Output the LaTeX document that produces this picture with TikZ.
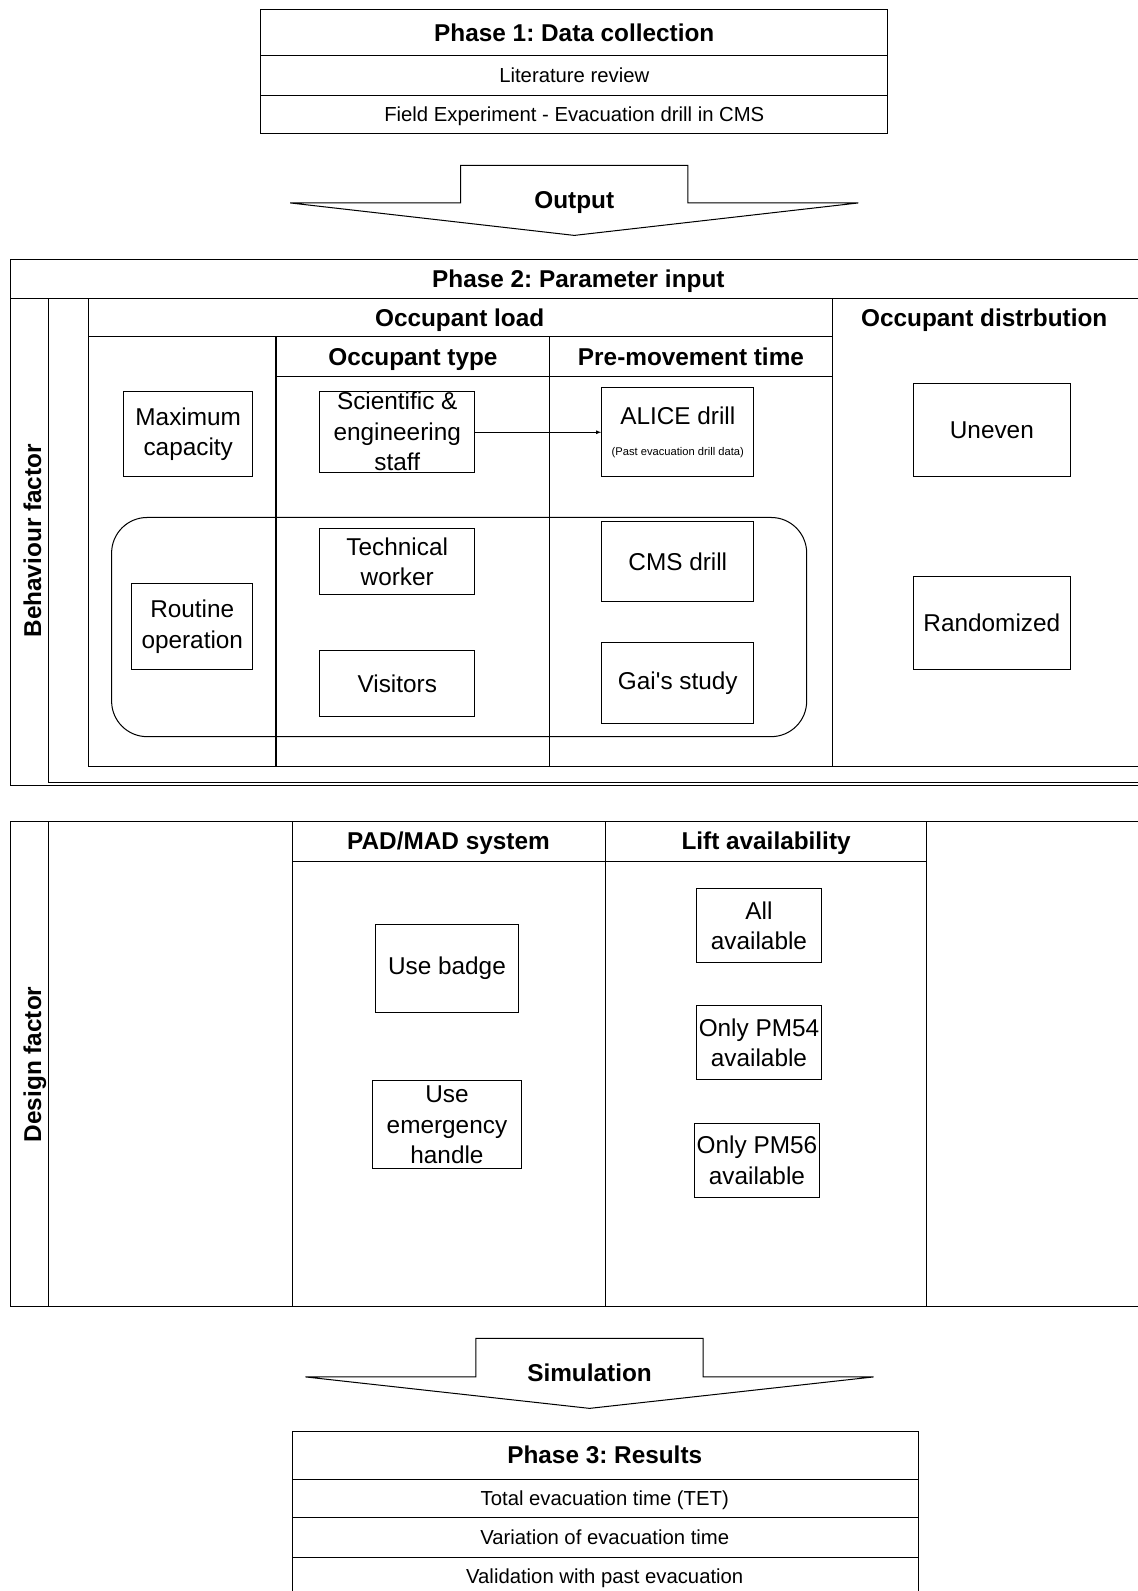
\documentclass[tikz,border=0pt]{standalone}
\usepackage{fontspec}
\setmainfont{Liberation Sans}
\frenchspacing

\tikzset{
  box/.style={draw, align=center, inner sep=0pt, font=\fontsize{24}{30}\selectfont},
  head/.style={font=\bfseries\fontsize{24}{30}\selectfont, text height=17.3pt, text depth=0pt},
  row/.style={font=\fontsize{20}{24}\selectfont, text height=14.4pt, text depth=0pt},
  bigarrow/.style={draw, fill=white}
}

\begin{document}
\begin{tikzpicture}[x=1pt,y=-1pt,line width=1pt]
	\useasboundingbox (0,0) rectangle (1121,1568);
	% Phase 1 table
	\draw (257,9) rectangle (875,132);
	\draw (257,55) -- (875,55);
	\draw (257,94) -- (875,94);
	\node[head] (phaseone) at (566,32) {Phase 1: Data collection};
	\node[row] (litrev) at (566,74) {Literature review};
	\node[row] (field) at (566,113) {Field Experiment - Evacuation drill in CMS};
	% Output arrow
	\draw[bigarrow] (454,163) -- (678,163) -- (678,200) -- (846,200) -- (566,232) -- (286,200) -- (454,200) -- cycle;
	\node[head] (output) at (566,197) {Output};

	% Phase 2 frame
	\draw (1122,256) -- (10,256) -- (10,774) -- (48,774);
	\draw (10,294) -- (1122,294);
	\draw (48,294) -- (48,771) -- (1122,771);
	\draw (48,774) -- (1122,774);
	\node[head] (phasetwo) at (570,275) {Phase 2: Parameter input};
	\node[head, rotate=90] (behaviour) at (32,533) {Behaviour factor};
	% inner table
	\draw (87,294) -- (87,755) -- (1122,755);
	\draw (87,332) -- (820,332);
	\draw (820,294) -- (820,755);
	\draw (272,332) -- (272,755);
	\draw (542,332) -- (542,755);
	\draw (272,371) -- (820,371);
	\node[head] (load) at (453,313) {Occupant load};
	\node[head] (distr) at (970,313) {Occupant distrbution};
	\node[head] (octype) at (407,352) {Occupant type};
	\node[head] (premove) at (681,352) {Pre-movement time};
	% routine group
	\draw[rounded corners=35pt] (110,510) rectangle (795,726);
	% boxes
	\node[box, minimum width=127pt, minimum height=84pt] (maxcap) at (185.5,428) {Maximum\\capacity};
	\node[box, minimum width=153pt, minimum height=80pt] (sci) at (391.5,426)
	  {\raisebox{-16pt}{\smash{\begin{tabular}{@{}c@{}}Scientific \&\\engineering\\staff\end{tabular}}}};
	\node[box, minimum width=150pt, minimum height=88pt] (alice) at (668,426)
	  {ALICE drill\\{\fontsize{11}{13}\selectfont(Past evacuation drill data)}};
	\node[box, minimum width=155pt, minimum height=92pt] (uneven) at (977.5,424) {Uneven};
	\node[box, minimum width=119pt, minimum height=85pt] (routine) at (189.5,617.5) {Routine\\operation};
	\node[box, minimum width=153pt, minimum height=65pt] (tech) at (391.5,553.5) {Technical\\worker};
	\node[box, minimum width=153pt, minimum height=65pt] (visitors) at (391.5,673.5) {Visitors};
	\node[box, minimum width=150pt, minimum height=79pt] (cms) at (668,553.5) {CMS drill};
	\node[box, minimum width=150pt, minimum height=80pt] (gai) at (668,673) {Gai\textquotesingle s study};
	\node[box, minimum width=155pt, minimum height=92pt] (random) at (977.5,614) {Randomized};
	% staff to drill
	\draw[-latex, line width=0.7pt] (sci) -- (alice);

	% Design factor frame
	\draw (1122,810) -- (10,810) -- (10,1288) -- (1122,1288);
	\draw (48,810) -- (48,1288);
	\draw (288,810) -- (288,1288);
	\draw (597,810) -- (597,1288);
	\draw (913,810) -- (913,1288);
	\draw (288,849) -- (913,849);
	\node[head, rotate=90] (design) at (32,1049) {Design factor};
	\node[head] (padmad) at (442,829) {PAD/MAD system};
	\node[head] (lift) at (755,829) {Lift availability};
	\node[box, minimum width=141pt, minimum height=87pt] (badge) at (440.5,954.5) {Use badge};
	\node[box, minimum width=147pt, minimum height=87pt] (handle) at (440.5,1108.5) {Use\\emergency\\handle};
	\node[box, minimum width=124pt, minimum height=73pt] (allav) at (748,912.5) {All\\available};
	\node[box, minimum width=124pt, minimum height=73pt] (pmfour) at (748,1027.5) {Only PM54\\available};
	\node[box, minimum width=124pt, minimum height=73pt] (pmsix) at (746,1143.5) {Only PM56\\available};

	% Simulation arrow
	\draw[bigarrow] (469,1319) -- (693,1319) -- (693,1357) -- (861,1357) -- (581,1388) -- (301,1357) -- (469,1357) -- cycle;
	\node[head] (simul) at (581,1353) {Simulation};

	% Phase 3 table
	\draw (288,1569) -- (288,1411) -- (905,1411) -- (905,1569);
	\draw (288,1458) -- (905,1458);
	\draw (288,1496) -- (905,1496);
	\draw (288,1535) -- (905,1535);
	\node[head] (phasethree) at (596,1434) {Phase 3: Results};
	\node[row] (tet) at (596,1477) {Total evacuation time (TET)};
	\node[row] (variation) at (596,1515) {Variation of evacuation time};
	\node[row] (valid) at (596,1553) {Validation with past evacuation};
\end{tikzpicture}
\end{document}
